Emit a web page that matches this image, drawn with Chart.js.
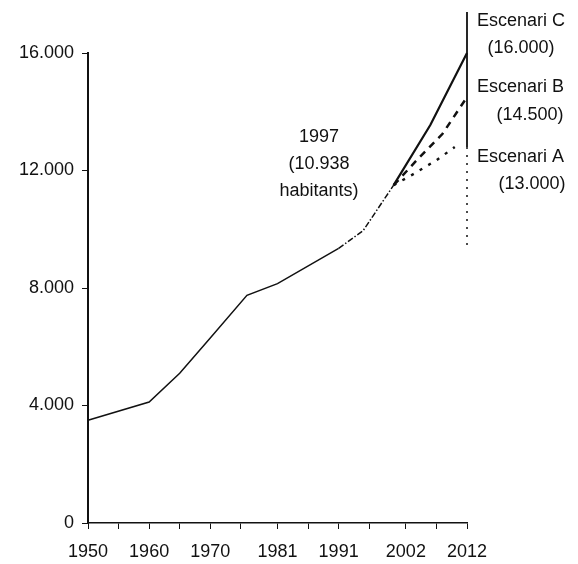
<!DOCTYPE html>
<html>
<head>
<meta charset="utf-8">
<script src="https://cdn.jsdelivr.net/npm/chart.js@4"></script>
<style>
  body { margin: 0; background: #fff; }
  canvas { display: block; }
</style>
</head>
<body>
<canvas id="myChart" width="578" height="564"></canvas>
<script>
// Population figures
const historyYears = [1950, 1960, 1965, 1970, 1976, 1981, 1991];
const historyValues = [3500, 4120, 5100, 6300, 7750, 8150, 9350];
const bridgeYears = [1991, 1995, 2000];
const bridgeValues = [9350, 9950, 11500];
const scenarioCYears = [2000, 2006, 2012];
const scenarioCValues = [11500, 13550, 16000];
const scenarioBYears = [2000, 2004, 2008, 2012];
const scenarioBValues = [11500, 12400, 13250, 14500];
const scenarioAYears = [2000, 2003, 2007, 2010];
const scenarioAValues = [11500, 11850, 12350, 12800];
// vertical marker at the horizon year
const markerYear = 2012;
const markerSolid = [17400, 12800];
const markerDotted = [12800, 9300];

const labelYears = [1950, 1960, 1970, 1981, 1991, 2002, 2012];
const minorYears = [1955, 1965, 1975, 1986, 1996, 2007];
const yTicks = [0, 4000, 8000, 12000, 16000];

const scenarioLabels = [
  ['Escenari C', '(16.000)'],
  ['Escenari B', '(14.500)'],
  ['Escenari A', '(13.000)'],
];
const noteLines = ['1997', '(10.938', 'habitants)'];

const ink = '#111';
const font = '"Liberation Sans", Arial, sans-serif';

function toPoints(xs, ys) {
  return xs.map((x, i) => ({ x: x, y: ys[i] }));
}

function formatThousands(v) {
  return String(v).replace(/\B(?=(\d{3})+(?!\d))/g, '.');
}

function lineSet(data, width, dash) {
  return {
    data: data,
    borderColor: ink,
    borderWidth: width,
    borderDash: dash,
    pointRadius: 0,
    tension: 0,
    fill: false,
    clip: false,
  };
}

// Text next to the lines
const textPlugin = {
  id: 'texts',
  afterDraw(chart) {
    const { ctx, scales } = chart;
    const x = scales.x.getPixelForValue(markerYear);
    ctx.save();
    ctx.fillStyle = ink;
    ctx.font = `18px ${font}`;
    ctx.textBaseline = 'middle';
    const rows = [[21, 48, 54], [87, 115, 63], [157, 184, 65]];
    scenarioLabels.forEach((pair, i) => {
      ctx.textAlign = 'left';
      ctx.fillText(pair[0], x + 10, rows[i][0]);
      ctx.textAlign = 'center';
      ctx.fillText(pair[1], x + rows[i][2], rows[i][1]);
    });
    ctx.textAlign = 'center';
    const nx = scales.x.getPixelForValue(1987.8);
    noteLines.forEach((line, i) => {
      ctx.fillText(line, nx, 137 + i * 27);
    });
    ctx.restore();
  },
};

const ctx = document.getElementById('myChart').getContext('2d');
const myChart = new Chart(ctx, {
  type: 'line',
  data: {
    datasets: [
      lineSet(toPoints(historyYears, historyValues), 1.5, []),
      lineSet(toPoints(bridgeYears, bridgeValues), 1.5, [6, 2, 1.5, 2]),
      lineSet(toPoints(scenarioCYears, scenarioCValues), 2.2, []),
      lineSet(toPoints(scenarioBYears, scenarioBValues), 2.5, [7, 6]),
      lineSet(toPoints(scenarioAYears, scenarioAValues), 2.4, [3, 7]),
      lineSet(toPoints([markerYear, markerYear], markerSolid), 1.8, []),
      lineSet(toPoints([markerYear, markerYear], markerDotted), 1.5, [2, 6]),
    ],
  },
  options: {
    responsive: false,
    animation: false,
    layout: { padding: { top: 53, right: 111, left: 0, bottom: 0 } },
    plugins: {
      legend: { display: false },
      tooltip: { enabled: false },
    },
    scales: {
      x: {
        type: 'linear',
        min: 1950,
        max: 2012,
        afterBuildTicks: (scale) => {
          scale.ticks = labelYears.concat(minorYears).sort().map((v) => ({ value: v }));
        },
        afterFit: (scale) => {
          scale.height = 41;
        },
        ticks: {
          autoSkip: false,
          maxRotation: 0,
          padding: 12,
          color: ink,
          font: { family: font, size: 18 },
          callback: (v) => (labelYears.includes(v) ? String(v) : ''),
        },
        grid: {
          drawOnChartArea: false,
          drawTicks: true,
          tickLength: 6,
          color: ink,
        },
        border: { color: ink, width: 1.5 },
      },
      y: {
        min: 0,
        max: 16000,
        afterBuildTicks: (scale) => {
          scale.ticks = yTicks.map((v) => ({ value: v }));
        },
        afterFit: (scale) => {
          scale.width = 88;
        },
        ticks: {
          padding: 8,
          color: ink,
          font: { family: font, size: 18 },
          callback: (v) => formatThousands(v),
        },
        grid: {
          drawOnChartArea: false,
          drawTicks: true,
          tickLength: 6,
          color: ink,
        },
        border: { color: ink, width: 2 },
      },
    },
  },
  plugins: [textPlugin],
});
</script>
</body>
</html>
